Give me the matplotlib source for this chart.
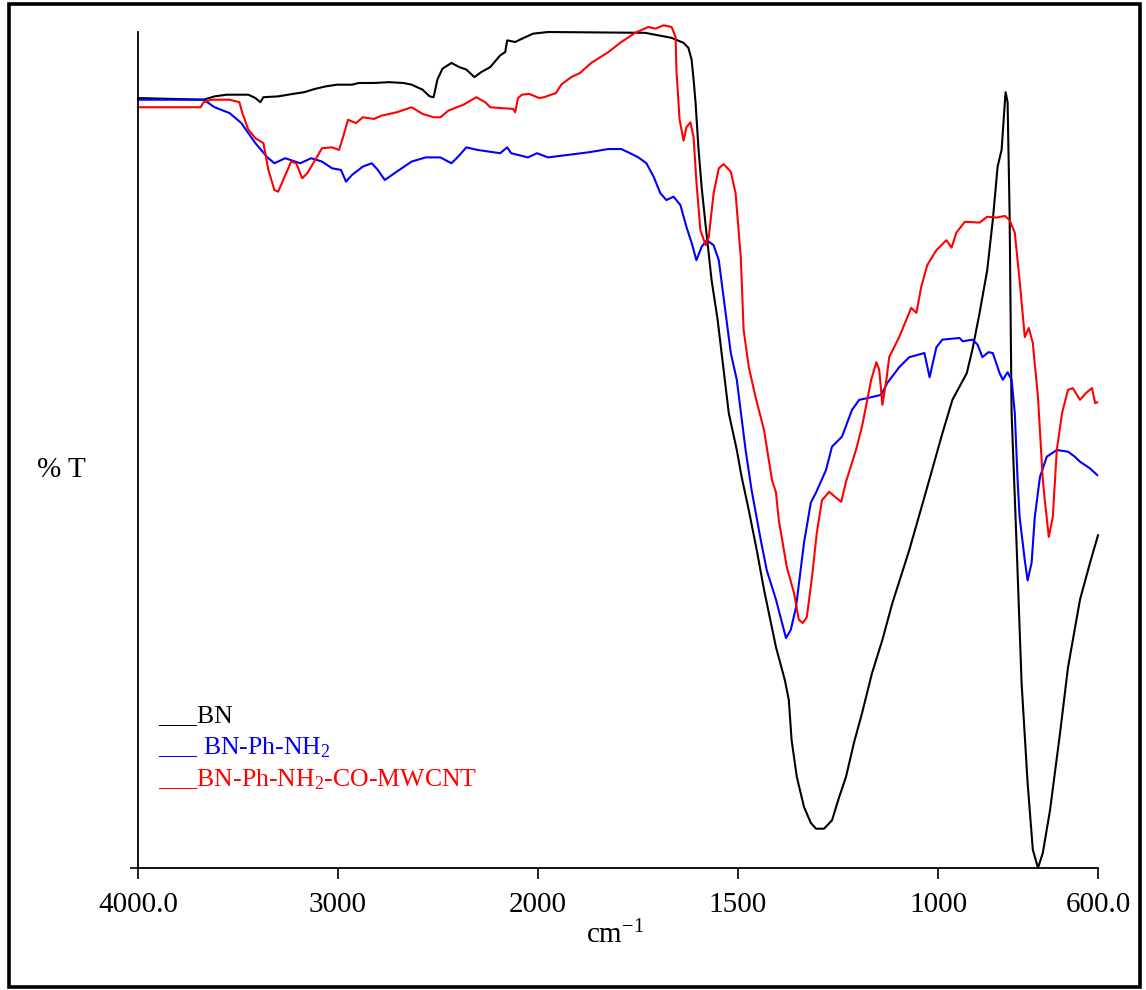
import numpy as np
import matplotlib
matplotlib.use("Agg")
import matplotlib.pyplot as plt
from matplotlib.patches import Rectangle

plt.rcParams['font.family'] = ['Liberation Serif', 'DejaVu Serif']
plt.rcParams['mathtext.fontset'] = 'custom'
plt.rcParams['mathtext.rm'] = 'Liberation Serif'
plt.rcParams['mathtext.it'] = 'Liberation Serif:italic'

# FTIR spectra, wavenumber (cm-1) vs %T (arbitrary, 0 = axis bottom)
bn_wn = [4000, 3672, 3617, 3557, 3448, 3413, 3388, 3373, 3299, 3224, 3169, 3114, 3060, 3005,
         2930, 2896, 2821, 2746, 2672, 2632, 2577, 2542, 2522, 2503, 2478, 2433, 2393, 2358,
         2318, 2284, 2239, 2189, 2164, 2154, 2114, 2080, 2025, 1975, 1732, 1699, 1666, 1636,
         1624, 1616, 1611, 1606, 1599, 1591, 1581, 1566, 1551, 1523, 1503, 1491, 1473, 1453,
         1435, 1405, 1383, 1373, 1366, 1353, 1335, 1318, 1305, 1285, 1265, 1247, 1230, 1210,
         1190, 1165, 1139, 1114,
         1072, 1029, 989, 964, 928, 914, 896, 877, 863, 851, 841, 833, 831, 826, 821, 816,
         803, 791, 776, 763, 750, 738, 720, 695, 675, 645, 620, 600]
bn_t = [92.1, 91.9, 92.3, 92.5, 92.5, 92.1, 91.6, 92.2, 92.3, 92.6, 92.8, 93.2, 93.5, 93.7,
        93.7, 93.9, 93.9, 94.0, 93.9, 93.7, 93.1, 92.3, 92.2, 94.3, 95.6, 96.3, 95.8, 95.5,
        94.6, 95.2, 95.8, 97.2, 97.6, 99.0, 98.8, 99.2, 99.8, 100.0, 99.9, 99.6, 99.3, 98.7,
        98.1, 96.7, 94.3, 91.5, 86.2, 81.5, 76.9, 70.3, 65.6, 54.4, 50.0, 46.8, 42.8, 38.0,
        33.3, 26.4, 22.5, 20.1, 15.3, 10.9, 7.3, 5.4, 4.7, 4.7, 5.7, 8.5, 10.9, 15.0,
        18.5, 23.3, 27.3, 31.7,
        38.0, 45.2, 52.0, 56.0, 59.2, 62.0, 66.4, 71.5, 77.5, 83.9, 85.9, 91.5, 92.8, 91.6, 78.3, 54.4,
        38.0, 22.1, 10.2, 2.2, 0.0, 1.8, 6.9, 16.1, 24.0, 32.1, 36.5, 39.8]

nh2_wn = [4000, 3672, 3617, 3542, 3483, 3413, 3353, 3318, 3264, 3189, 3134, 3080, 3030, 2985,
          2960, 2930, 2876, 2831, 2801, 2766, 2706, 2632, 2562, 2488, 2433, 2403, 2358, 2304,
          2189, 2154, 2134, 2050, 2005, 1975, 1925, 1875, 1824, 1792, 1774, 1749, 1729, 1711,
          1694, 1679, 1661, 1644, 1629, 1616, 1604, 1591, 1578, 1561, 1548, 1531, 1518, 1503,
          1481, 1466, 1443, 1428, 1405, 1380, 1368, 1355, 1335, 1318, 1305, 1280, 1265, 1240,
          1215, 1197, 1177, 1142, 1127, 1097, 1072, 1034, 1021, 1004, 989, 946, 938, 914,
          901, 889, 874, 863, 846, 838, 826, 816, 808, 801, 796, 783, 776, 766, 758, 745,
          728, 703, 675, 658, 645, 620, 602]
nh2_t = [91.9, 91.9, 91.0, 90.3, 89.1, 86.7, 85.0, 84.3, 84.9, 84.3, 84.9, 84.5, 83.7, 83.5,
         82.1, 82.9, 83.9, 84.3, 83.5, 82.3, 83.3, 84.5, 85.0, 85.0, 84.3, 85.0, 86.2, 85.9,
         85.5, 86.2, 85.5, 85.0, 85.5, 85.0, 85.3, 85.6, 86.0, 86.0, 85.6, 85.0, 84.3, 82.7,
         80.7, 79.9, 80.3, 79.3, 76.7, 74.8, 72.7, 74.3, 75.1, 74.5, 72.7, 66.4, 61.6, 58.4,
         50.0, 45.2, 39.2, 35.6, 32.1, 27.5, 28.5, 31.2, 38.9, 43.7, 44.9, 47.6, 50.4, 51.6,
         54.8, 56.0, 56.2, 56.6, 58.0, 59.9, 61.1, 61.6, 58.7, 62.3, 63.2, 63.4, 63.0, 63.2,
         62.6, 61.1, 61.7, 61.6, 59.2, 58.4, 59.3, 58.4, 54.4, 46.4, 42.0, 36.8, 34.4, 36.5, 42.0, 46.8,
         49.2, 50.0, 49.8, 49.2, 48.6, 47.8, 47.0]

cnt_wn = [4000, 3687, 3672, 3632, 3542, 3493, 3478, 3448, 3413, 3373, 3348, 3318, 3299, 3274,
          3234, 3209, 3179, 3154, 3114, 3080, 3030, 2995, 2975, 2950, 2910, 2876, 2821, 2781,
          2706, 2632, 2577, 2522, 2488, 2448, 2373, 2308, 2264, 2239, 2189, 2124, 2114, 2100,
          2080, 2045, 1997, 1985, 1955, 1942, 1917, 1895, 1867, 1824, 1792, 1757, 1724, 1706,
          1686, 1666, 1656, 1654, 1646, 1636, 1629, 1619, 1611, 1604, 1594, 1581, 1573, 1561,
          1548, 1536, 1518, 1506, 1493, 1486, 1473, 1456, 1435, 1415, 1405, 1398, 1378, 1360,
          1348, 1338, 1328, 1315, 1303, 1290, 1272, 1255, 1242, 1230, 1205, 1190, 1167, 1154,
          1147, 1139, 1129, 1122, 1097, 1079, 1067, 1054, 1042, 1027, 1004, 979, 966, 954,
          933, 896, 877, 853, 833, 821, 808, 796, 783, 773, 763, 750, 738, 733, 723, 713,
          703, 690, 675, 663, 645, 628, 615, 607, 602]
cnt_t = [91.0, 91.0, 91.6, 91.9, 91.9, 91.6, 90.3, 88.3, 87.3, 86.7, 83.5, 81.1, 80.9, 82.3,
         84.5, 84.3, 82.5, 83.1, 84.7, 86.1, 86.2, 85.9, 87.4, 89.5, 89.1, 89.8, 89.6, 90.0,
         90.4, 91.0, 90.2, 89.8, 89.8, 90.6, 91.3, 92.2, 91.6, 91.0, 90.9, 90.8, 90.4, 92.1,
         92.5, 92.6, 92.1, 92.2, 92.7, 93.7, 94.6, 95.1, 96.3, 97.6, 98.8, 99.9, 100.6, 100.4,
         100.8, 100.6, 99.4, 95.5, 89.5, 87.0, 88.6, 89.2, 87.4, 82.1, 76.3, 74.5, 75.5, 80.7,
         83.7, 84.2, 83.3, 80.7, 73.0, 64.4, 59.9, 56.3, 52.4, 46.4, 44.9, 41.6, 36.0, 32.9,
         29.7, 29.3, 30.0, 34.8, 40.1, 44.0, 45.0, 44.3, 43.8, 46.2, 50.0, 52.8, 58.4, 60.5,
         59.6, 55.4, 58.4, 61.1, 63.5, 65.6, 67.0, 66.4, 69.5, 72.1, 73.9, 75.1, 74.2, 76.0,
         77.3, 77.2, 77.9, 77.8, 78.0, 77.5, 76.0, 70.3, 63.5, 64.6, 62.8, 56.3, 46.4, 44.0, 39.6, 42.0,
         50.0, 54.4, 57.2, 57.4, 56.0, 56.9, 57.4, 55.6, 55.7]

xticks = [4000, 3000, 2000, 1500, 1000, 600]
xticklabels = ['4000.0', '3000', '2000', '1500', '1000', '600.0']


# spectrometer style axis: above 2000 cm-1 compressed by half
def fwd(w):
    w = np.asarray(w, dtype=float)
    return np.where(w > 2000, 2000 + (w - 2000) * 0.5, w)


def inv(s):
    s = np.asarray(s, dtype=float)
    return np.where(s > 2000, 2000 + (s - 2000) * 2.0, s)


fig = plt.figure(figsize=(11.46, 9.9), dpi=100)
ax = fig.add_axes([138 / 1146, 1 - 868 / 990, (1098 - 138) / 1146, (868 - 32) / 990])
ax.set_xscale('function', functions=(fwd, inv))

ax.plot(bn_wn, bn_t, color='black', lw=1.5, clip_on=False)
ax.plot(nh2_wn, nh2_t, color='#0000ff', lw=1.5, clip_on=False)
ax.plot(cnt_wn, cnt_t, color='#ff0000', lw=1.5, clip_on=False)

ax.set_xlim(4000, 600)
ax.set_ylim(0, 100)
ax.set_xticks(xticks)
ax.set_xticklabels(xticklabels, fontsize=21)
ax.minorticks_off()
ax.set_yticks([0])
ax.set_yticklabels([''])
ax.tick_params(axis='x', direction='out', length=8, width=1.2, pad=9)
ax.tick_params(axis='y', direction='out', length=6, width=1.2)
for s in ['top', 'right']:
    ax.spines[s].set_visible(False)
for s in ['left', 'bottom']:
    ax.spines[s].set_linewidth(1.3)

fig.text(615 / 1146, 1 - 935 / 990, 'cm$^{-1}$', fontsize=21, ha='center', va='center')
fig.text(61 / 1146, 1 - 470 / 990, '% T', fontsize=21, ha='center', va='center')

fig.text(158 / 1146, 1 - 716 / 990, '___BN', fontsize=18.5, color='black', va='center')
fig.text(158 / 1146, 1 - 748 / 990, '___ BN-Ph-NH$_2$', fontsize=18.5, color='#0000ff', va='center')
fig.text(158 / 1146, 1 - 780 / 990, '___BN-Ph-NH$_2$-CO-MWCNT', fontsize=18.5, color='#ff0000', va='center')

fig.patches.append(Rectangle((8.5 / 1146, 3.5 / 990), (1140 - 8.5) / 1146, (986.5 - 3.5) / 990,
                             transform=fig.transFigure, fill=False, edgecolor='black', lw=2.6))

fig.savefig('out.png', dpi=100)
